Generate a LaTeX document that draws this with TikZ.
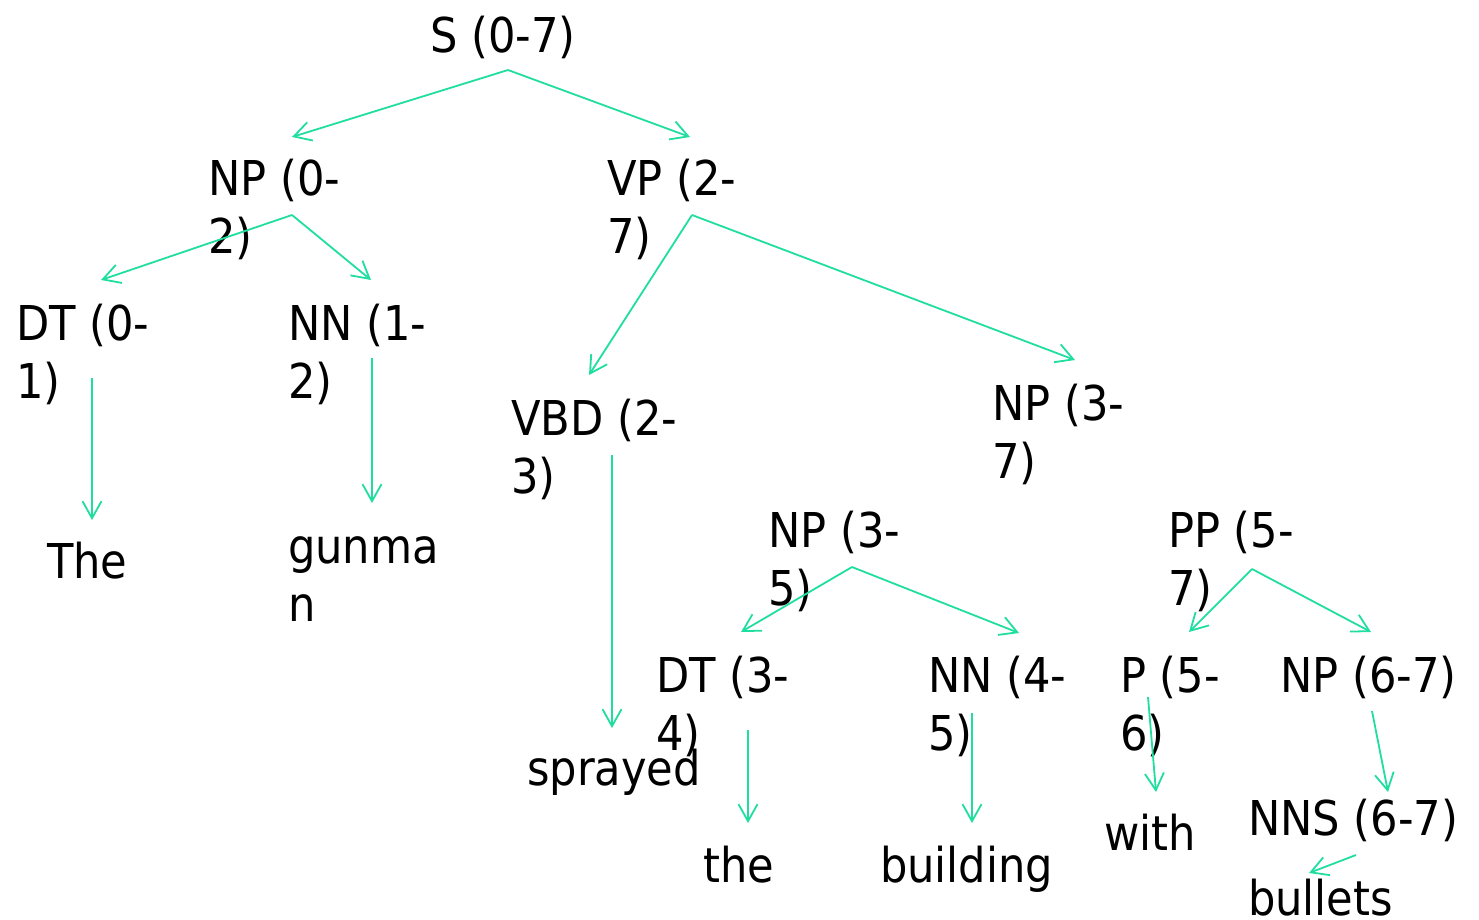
\documentclass[tikz,border=0pt]{standalone}
\usepackage{fontspec}
\setmainfont{DejaVu Sans Condensed}
\usetikzlibrary{arrows.meta}
\definecolor{edge}{RGB}{32,222,160}
% two-line label whose baseline is that of its first line
\newcommand{\twol}[2]{\begin{tabular}[t]{@{}l@{}}#1\\#2\end{tabular}}
\tikzset{
  lbl/.style={anchor=base west, inner sep=0pt, font=\fontsize{48}{58}\selectfont},
  edgearrow/.style={draw=edge, line width=1.8pt,
    -{Straight Barb[length=17pt, width=19pt, line width=1.8pt]}},
}
\begin{document}
\begin{tikzpicture}[x=1pt, y=-1pt]
\useasboundingbox (0,0) rectangle (1479,919);

% constituent labels
\node[lbl] (S)     at (430,52)  {S (0-7)};
\node[lbl] (NP02)  at (208,195) {\twol{NP (0-}{2)}};
\node[lbl] (VP27)  at (607,195) {\twol{VP (2-}{7)}};
\node[lbl] (DT01)  at (16,340)  {\twol{DT (0-}{1)}};
\node[lbl] (NN12)  at (288,340) {\twol{NN (1-}{2)}};
\node[lbl] (VBD23) at (511,435) {\twol{VBD (2-}{3)}};
\node[lbl] (NP37)  at (992,420) {\twol{NP (3-}{7)}};
\node[lbl] (NP35)  at (768,547) {\twol{NP (3-}{5)}};
\node[lbl] (PP57)  at (1168,547) {\twol{PP (5-}{7)}};
\node[lbl] (DT34)  at (656,692) {\twol{DT (3-}{4)}};
\node[lbl] (NN45)  at (928,692) {\twol{NN (4-}{5)}};
\node[lbl] (P56)   at (1120,692) {\twol{P (5-}{6)}};
\node[lbl] (NP67)  at (1280,692) {NP (6-7)};
\node[lbl] (NNS67) at (1248,835) {NNS (6-7)};

% words
\node[lbl] (wThe)      at (47,578)   {The};
\node[lbl] (wgunman)   at (288,563)  {\twol{gunma}{n}};
\node[lbl] (wsprayed)  at (527,785)  {sprayed};
\node[lbl] (wthe)      at (703,882)  {the};
\node[lbl] (wbuilding) at (880,882)  {building};
\node[lbl] (wwith)     at (1104,850) {with};
\node[lbl] (wbullets)  at (1248,915) {bullets};

% connector end points
\coordinate (S-o)     at (508,70);
\coordinate (NP02-i)  at (292,137);
\coordinate (VP27-i)  at (690,137);
\coordinate (NP02-o)  at (292,215);
\coordinate (DT01-i)  at (101,280);
\coordinate (NN12-i)  at (371,280);
\coordinate (VP27-o)  at (692,215);
\coordinate (VBD23-i) at (589,375);
\coordinate (NP37-i)  at (1075,360);
\coordinate (DT01-o)  at (92,378);
\coordinate (wThe-i)  at (92,520);
\coordinate (NN12-o)  at (372,358);
\coordinate (wgunman-i) at (372,503);
\coordinate (VBD23-o) at (612,455);
\coordinate (wsprayed-i) at (612,728);
\coordinate (NP35-o)  at (852,567);
\coordinate (DT34-i)  at (741,632);
\coordinate (NN45-i)  at (1019,633);
\coordinate (DT34-o)  at (748,730);
\coordinate (wthe-i)  at (748,823);
\coordinate (NN45-o)  at (972,713);
\coordinate (wbuilding-i) at (972,823);
\coordinate (PP57-o)  at (1252,569);
\coordinate (P56-i)   at (1189,632);
\coordinate (NP67-i)  at (1371,632);
\coordinate (P56-o)   at (1148,697);
\coordinate (wwith-i) at (1156,792);
\coordinate (NP67-o)  at (1372,711);
\coordinate (NNS67-i) at (1388,792);
\coordinate (NNS67-o) at (1356,855);
\coordinate (wbullets-i) at (1309,873);

% tree edges
\draw[edgearrow] (S-o) -- (NP02-i);
\draw[edgearrow] (S-o) -- (VP27-i);
\draw[edgearrow] (NP02-o) -- (DT01-i);
\draw[edgearrow] (NP02-o) -- (NN12-i);
\draw[edgearrow] (VP27-o) -- (VBD23-i);
\draw[edgearrow] (VP27-o) -- (NP37-i);
\draw[edgearrow] (DT01-o) -- (wThe-i);
\draw[edgearrow] (NN12-o) -- (wgunman-i);
\draw[edgearrow] (VBD23-o) -- (wsprayed-i);
\draw[edgearrow] (NP35-o) -- (DT34-i);
\draw[edgearrow] (NP35-o) -- (NN45-i);
\draw[edgearrow] (DT34-o) -- (wthe-i);
\draw[edgearrow] (NN45-o) -- (wbuilding-i);
\draw[edgearrow] (PP57-o) -- (P56-i);
\draw[edgearrow] (PP57-o) -- (NP67-i);
\draw[edgearrow] (P56-o) -- (wwith-i);
\draw[edgearrow] (NP67-o) -- (NNS67-i);
\draw[edgearrow] (NNS67-o) -- (wbullets-i);
\end{tikzpicture}
\end{document}
